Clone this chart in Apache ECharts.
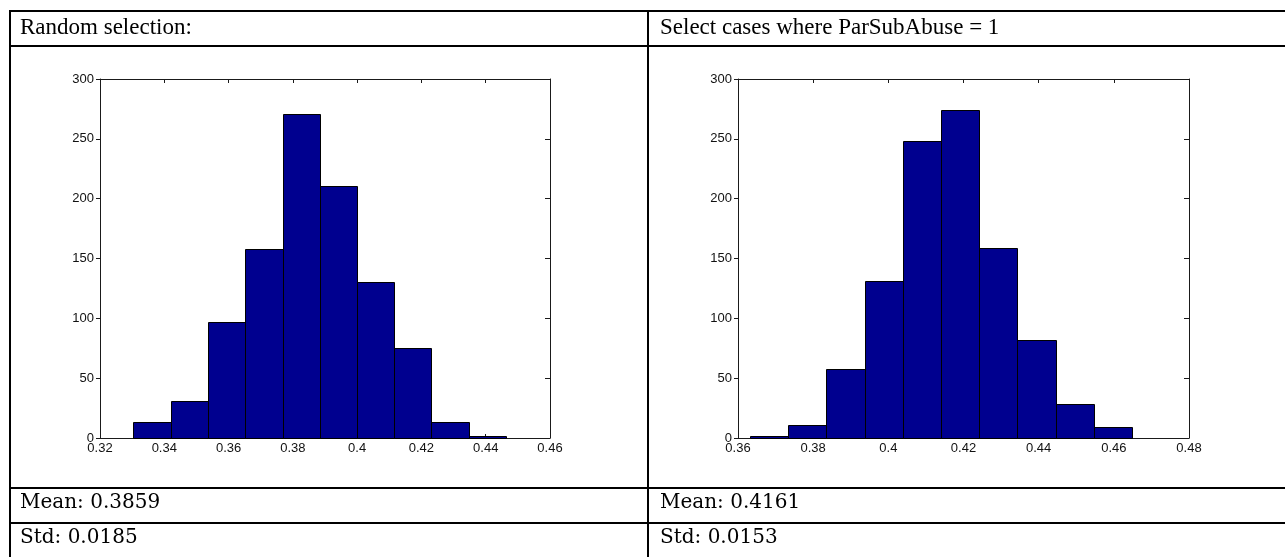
<!DOCTYPE html>
<html>
<head>
<meta charset="utf-8">
<script src="https://cdn.jsdelivr.net/npm/echarts@6/dist/echarts.min.js"></script>
<style>
html,body{margin:0;padding:0;background:#fff;}
#chart{width:1285px;height:557px;}
</style>
</head>
<body>
<div id="chart"></div>
<script>
// ---- data ----
const leftTitle = 'Random selection:';
const rightTitle = 'Select cases where ParSubAbuse = 1';
const leftStats = ['Mean: 0.3859', 'Std: 0.0185'];
const rightStats = ['Mean: 0.4161', 'Std: 0.0153'];

const leftEdges = [0.3304, 0.3420, 0.3536, 0.3652, 0.3768, 0.3884, 0.3999, 0.4115, 0.4231, 0.4347, 0.4463];
const leftCounts = [13, 31, 97, 158, 271, 211, 130, 75, 13, 2];
const rightEdges = [0.3632, 0.3734, 0.3835, 0.3937, 0.4038, 0.4140, 0.4242, 0.4343, 0.4445, 0.4546, 0.4648];
const rightCounts = [2, 11, 58, 131, 248, 274, 159, 82, 28, 9];

const leftXRange = [0.32, 0.46];
const rightXRange = [0.36, 0.48];
const xTickStep = 0.02;
const yRange = [0, 300];
const yTickStep = 50;

// ---- build ----
function bins(edges, counts) {
  return counts.map((c, i) => [edges[i], edges[i + 1], c]);
}
const barFill = '#00008F';
const axisColor = '#1a1a1a';
const labelFont = { fontFamily: 'Liberation Sans, Arial, sans-serif', fontSize: 13, color: '#111' };
const titleFont = '23px "Liberation Serif", serif';
const statFont = '20px "DejaVu Serif", serif';

function fmt(v) { return String(parseFloat(v.toFixed(3))); }

function xAxes(range, gridIndex) {
  return [
    {
      type: 'value', gridIndex, position: 'bottom', min: range[0], max: range[1], interval: xTickStep,
      axisLine: { show: true, onZero: false, lineStyle: { color: axisColor, width: 1 } },
      axisTick: { show: true, inside: true, length: 4, lineStyle: { color: axisColor } },
      axisLabel: Object.assign({ show: true, margin: 4, formatter: fmt, showMinLabel: true, showMaxLabel: true }, labelFont),
      splitLine: { show: false }
    },
    {
      type: 'value', gridIndex, position: 'top', min: range[0], max: range[1], interval: xTickStep,
      axisLine: { show: true, onZero: false, lineStyle: { color: axisColor, width: 1 } },
      axisTick: { show: true, inside: true, length: 4, lineStyle: { color: axisColor } },
      axisLabel: { show: false },
      splitLine: { show: false }
    }
  ];
}
function yAxes(gridIndex) {
  return [
    {
      type: 'value', gridIndex, position: 'left', min: yRange[0], max: yRange[1], interval: yTickStep,
      axisLine: { show: true, onZero: false, lineStyle: { color: axisColor, width: 1 } },
      axisTick: { show: true, inside: false, length: 4, lineStyle: { color: axisColor } },
      axisLabel: Object.assign({ show: true, margin: 6, showMinLabel: true, showMaxLabel: true }, labelFont),
      splitLine: { show: false }
    },
    {
      type: 'value', gridIndex, position: 'right', min: yRange[0], max: yRange[1], interval: yTickStep,
      axisLine: { show: true, onZero: false, lineStyle: { color: axisColor, width: 1 } },
      axisTick: { show: true, inside: true, length: 5, lineStyle: { color: axisColor } },
      axisLabel: { show: false },
      splitLine: { show: false }
    }
  ];
}

function renderBar(params, api) {
  const x0 = api.value(0), x1 = api.value(1), c = api.value(2);
  const pTop = api.coord([x0, c]);
  const pBot = api.coord([x1, 0]);
  const left = Math.round(pTop[0]) + 0.5;
  const right = Math.round(pBot[0]) + 0.5;
  const top = Math.round(pTop[1]) + 0.5;
  const bottom = Math.round(pBot[1]) + 0.5;
  return {
    type: 'rect',
    shape: { x: left, y: top, width: right - left, height: bottom - top },
    style: { fill: barFill, stroke: '#000', lineWidth: 1 }
  };
}

function hline(y, x0, x1) {
  return { type: 'rect', shape: { x: x0, y: y, width: x1 - x0, height: 2 }, style: { fill: '#000' }, silent: true };
}
function vline(x, y0, y1) {
  return { type: 'rect', shape: { x: x, y: y0, width: 2, height: y1 - y0 }, style: { fill: '#000' }, silent: true };
}
function txt(s, x, y, font) {
  return { type: 'text', x: x, y: y, style: { text: s, font: font, fill: '#000', verticalAlign: 'middle', align: 'left' }, silent: true };
}

const chart = echarts.init(document.getElementById('chart'), null, { renderer: 'canvas' });
chart.setOption({
  backgroundColor: '#fff',
  animation: false,
  grid: [
    { left: 100, top: 79, width: 450, height: 359, containLabel: false },
    { left: 738, top: 79, width: 451, height: 359, containLabel: false }
  ],
  xAxis: [].concat(xAxes(leftXRange, 0), xAxes(rightXRange, 1)),
  yAxis: [].concat(yAxes(0), yAxes(1)),
  series: [
    { type: 'custom', xAxisIndex: 0, yAxisIndex: 0, data: bins(leftEdges, leftCounts), renderItem: renderBar, encode: { x: [0, 1], y: 2 } },
    { type: 'custom', xAxisIndex: 2, yAxisIndex: 2, data: bins(rightEdges, rightCounts), renderItem: renderBar, encode: { x: [0, 1], y: 2 } }
  ],
  graphic: [
    hline(10, 9, 1285),
    hline(45, 9, 1285),
    hline(487, 9, 1285),
    hline(522, 9, 1285),
    vline(9, 10, 557),
    vline(647, 10, 557),
    txt(leftTitle, 20, 28, titleFont),
    txt(rightTitle, 660, 28, titleFont),
    txt(leftStats[0], 20, 503, statFont),
    txt(rightStats[0], 660, 503, statFont),
    txt(leftStats[1], 20, 538, statFont),
    txt(rightStats[1], 660, 538, statFont)
  ]
});
</script>
</body>
</html>
